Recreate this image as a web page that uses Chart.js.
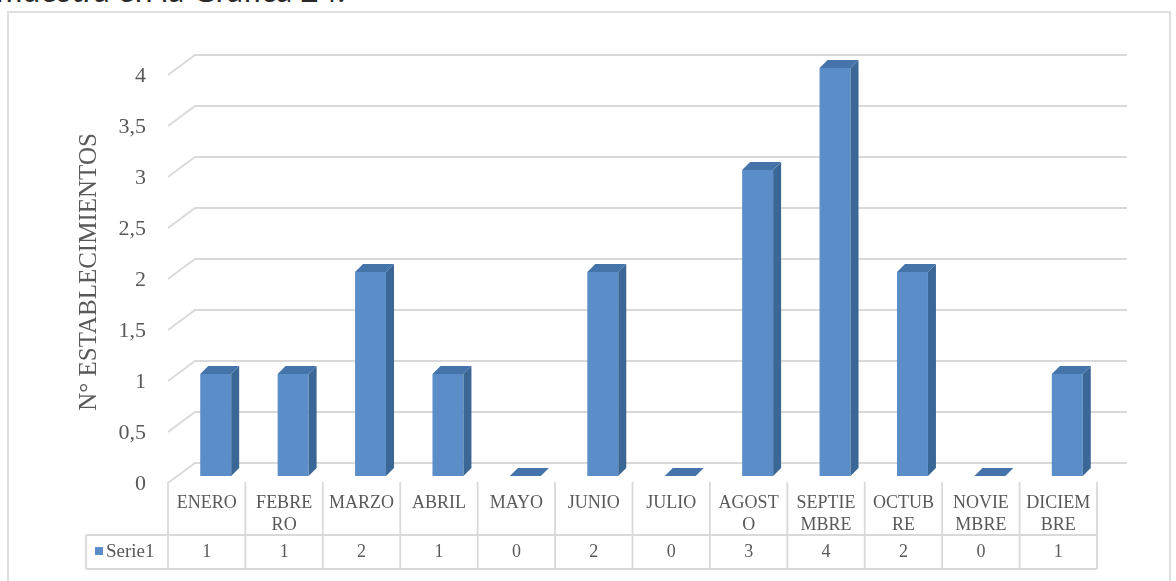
<!DOCTYPE html>
<html>
<head>
<meta charset="utf-8">
<script src="https://cdn.jsdelivr.net/npm/chart.js@4.4.1/dist/chart.umd.min.js"></script>
<style>
  body { margin: 0; background: #fff; overflow: hidden; width: 1176px; height: 581px; position: relative; }
  #texto { position: absolute; left: -4px; top: -26px; font: 32px/32px Lato, sans-serif; color: #2a2a2a; white-space: nowrap; }
  #marco { position: absolute; left: 7px; top: 11px; width: 1164px; height: 620px; border: 2px solid #dedede; box-sizing: border-box; }
  #grafica { position: absolute; left: 0; top: 0; }
</style>
</head>
<body>
<div id="texto">muestra en la Gráfica 24.</div>
<div id="marco"></div>
<canvas id="grafica" width="1176" height="581"></canvas>
<script>
const meses = ['ENERO', ['FEBRE', 'RO'], 'MARZO', 'ABRIL', 'MAYO', 'JUNIO', 'JULIO',
  ['AGOST', 'O'], ['SEPTIE', 'MBRE'], ['OCTUB', 'RE'], ['NOVIE', 'MBRE'], ['DICIEM', 'BRE']]
const serie1 = [1, 1, 2, 1, 0, 2, 0, 3, 4, 2, 0, 1]
const nombreSerie = 'Serie1'
const tituloY = 'N° ESTABLECIMIENTOS'
const yMax = 4
const yPaso = 0.5

const gris = '#595959'
const lineaGris = '#d9d9d9'
const azulFrente = '#5b8ec9'
const azulLado = '#3b6796'
const azulArriba = '#4574ab'

const prof = 8       // profundidad de las barras
const corrX = 9      // corrimiento entre barra y columna de la tabla

// dibuja la pared del fondo, las caras 3D y la tabla de datos
const falso3d = {
  id: 'falso3d',
  beforeDatasetsDraw(chart) {
    const ctx = chart.ctx
    const y = chart.scales.y
    const left = chart.chartArea.left
    ctx.save()
    ctx.strokeStyle = lineaGris
    ctx.lineWidth = 1.8
    for (let v = 0; v <= yMax; v += yPaso) {
      const py = y.getPixelForValue(v) - 13
      ctx.beginPath()
      ctx.moveTo(left - 9, py + 20)
      ctx.lineTo(left + 18, py)
      ctx.lineTo(chart.chartArea.right + 21, py)
      ctx.stroke()
    }
    ctx.restore()
  },
  afterDatasetsDraw(chart) {
    const ctx = chart.ctx
    const meta = chart.getDatasetMeta(0)
    ctx.save()
    meta.data.forEach(bar => {
      const l = bar.x - bar.width / 2
      const r = bar.x + bar.width / 2
      // lado
      ctx.fillStyle = azulLado
      ctx.beginPath()
      ctx.moveTo(r, bar.y)
      ctx.lineTo(r + prof, bar.y - prof)
      ctx.lineTo(r + prof, bar.base - prof)
      ctx.lineTo(r, bar.base)
      ctx.closePath()
      ctx.fill()
      // tapa
      ctx.fillStyle = azulArriba
      ctx.beginPath()
      ctx.moveTo(l, bar.y)
      ctx.lineTo(l + prof, bar.y - prof)
      ctx.lineTo(r + prof, bar.y - prof)
      ctx.lineTo(r, bar.y)
      ctx.closePath()
      ctx.fill()
    })
    ctx.restore()
  },
  afterDraw(chart) {
    const ctx = chart.ctx
    const x = chart.scales.x
    const bottom = chart.chartArea.bottom
    const banda = x.getPixelForValue(1) - x.getPixelForValue(0)
    const ini = x.getPixelForValue(0) - corrX - banda / 2
    const fin = ini + banda * serie1.length
    const yTop = bottom + 6, yMid = bottom + 59, yBot = bottom + 93
    ctx.save()
    ctx.strokeStyle = lineaGris
    ctx.lineWidth = 1.8
    ctx.beginPath()
    for (let i = 0; i <= serie1.length; i++) {
      const px = ini + banda * i
      ctx.moveTo(px, yTop)
      ctx.lineTo(px, yBot)
    }
    ctx.moveTo(86, yMid); ctx.lineTo(fin, yMid)
    ctx.moveTo(86, yBot); ctx.lineTo(fin, yBot)
    ctx.moveTo(86, yMid); ctx.lineTo(86, yBot)
    ctx.stroke()

    ctx.fillStyle = gris
    ctx.font = '18px "Liberation Serif", serif'
    ctx.textAlign = 'center'
    ctx.textBaseline = 'middle'
    const yVal = (yMid + yBot) / 2
    serie1.forEach((v, i) => {
      ctx.fillText(String(v), ini + banda * (i + 0.5), yVal)
    })
    // leyenda
    ctx.fillStyle = azulFrente
    ctx.fillRect(95, yVal - 5, 8, 8)
    ctx.fillStyle = gris
    ctx.textAlign = 'left'
    ctx.font = '19px "Liberation Serif", serif'
    ctx.fillText(nombreSerie, 106, yVal)
    ctx.restore()
  }
}

new Chart(document.getElementById('grafica'), {
  type: 'bar',
  data: {
    labels: meses,
    datasets: [{
      label: nombreSerie,
      data: serie1,
      backgroundColor: azulFrente,
      borderWidth: 0,
      barPercentage: 0.4,
      categoryPercentage: 1
    }]
  },
  options: {
    responsive: false,
    animation: false,
    layout: { padding: { top: 68, right: 70, bottom: 0, left: 0 } },
    plugins: { legend: { display: false }, tooltip: { enabled: false } },
    scales: {
      x: {
        grid: { display: false, drawTicks: false },
        border: { display: false },
        ticks: {
          color: gris,
          font: { family: '"Liberation Serif", serif', size: 18, lineHeight: '22px' },
          padding: 16,
          labelOffset: -corrX,
          maxRotation: 0,
          autoSkip: false
        },
        afterFit(scale) { scale.height = 105 }
      },
      y: {
        min: 0,
        max: yMax,
        grid: { display: false, drawTicks: false },
        border: { display: false },
        ticks: {
          stepSize: yPaso,
          color: gris,
          font: { family: '"Liberation Serif", serif', size: 22 },
          padding: 31,
          labelOffset: 8,
          callback: v => String(v).replace('.', ',')
        },
        title: {
          display: true,
          text: tituloY,
          color: gris,
          font: { family: '"Liberation Serif", serif', size: 25 },
          padding: { top: 74, bottom: 0 }
        },
        afterFit(scale) { scale.width = 177 }
      }
    }
  },
  plugins: [falso3d]
})
</script>
</body>
</html>
